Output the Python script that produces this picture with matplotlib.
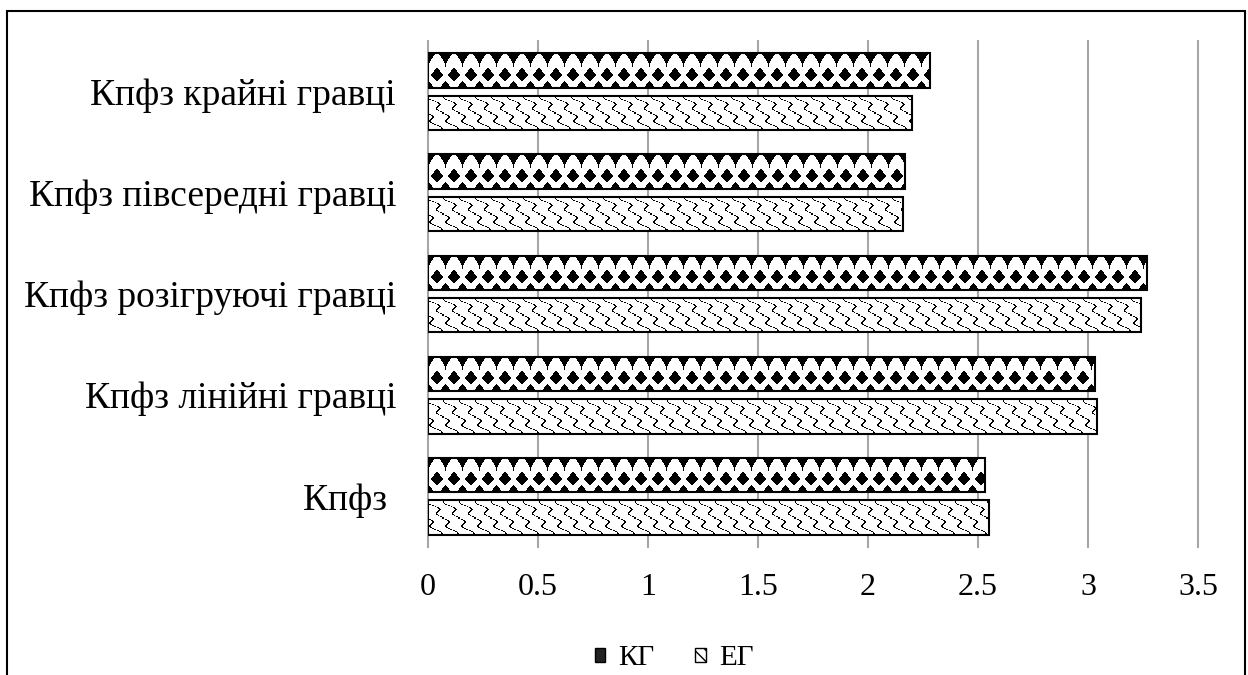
import numpy as np
import matplotlib.pyplot as plt
from matplotlib.patches import Patch, Rectangle

categories = ["Кпфз ", "Кпфз лінійні гравці", "Кпфз розігруючі гравці",
              "Кпфз півсередні гравці", "Кпфз крайні гравці"]
kg = [2.53, 3.03, 3.27, 2.17, 2.28]
eg = [2.55, 3.04, 3.24, 2.16, 2.20]
series_names = ["КГ", "ЕГ"]
xticks = [0, 0.5, 1, 1.5, 2, 2.5, 3, 3.5]
xlabels = ["0", "0.5", "1", "1.5", "2", "2.5", "3", "3.5"]

plt.rcParams['font.family'] = ['Liberation Serif', 'DejaVu Serif']


# fill textures for the bars (pixel grids, black = 0)
def diamonds(w, h):
    yy, xx = np.mgrid[0:h, 0:w] + 0.5
    cx = np.round((xx - 9) / 17) * 17 + 9
    mid = np.abs(xx - cx) / 6 + np.abs(yy - 21) / 6.5 <= 1
    cx2 = np.round((xx - 17.5) / 17) * 17 + 17.5
    top = (np.abs(xx - cx2) / 8.6) ** 0.75 + (yy / 14) ** 0.75 <= 1
    bot = np.abs(xx - cx2) / 6 + np.abs(yy - h) / 7 <= 1
    return np.where(mid | top | bot, 0.0, 1.0)


def waves(w, h):
    yy, xx = np.mgrid[0:h, 0:w] + 0.5
    v = (xx - 0.8 * yy + 3.5 * np.sin(2 * np.pi * yy / 11.5)) % 16
    return np.where(v < 1.8, 0.0, 1.0)


fig = plt.figure(figsize=(12.48, 6.75), dpi=100)
ax = fig.add_axes([428 / 1248, 1 - 547 / 675, 770 / 1248, 506 / 675])
ax.set_xlim(0, 3.5)
ax.set_ylim(-0.5, 4.5)

y = np.arange(len(categories))
bh = 0.34
for vals, dy, pat in [(kg, 0.21, diamonds), (eg, -0.21, waves)]:
    ax.barh(y + dy, vals, height=bh, facecolor='none', edgecolor='black',
            linewidth=1.5, zorder=3)
    for yi, v in zip(y, vals):
        x0, y0 = ax.transData.transform((0, yi + dy + bh / 2))
        x1, y1 = ax.transData.transform((v, yi + dy - bh / 2))
        img = pat(int(round(x1 - x0)), int(round(y0 - y1)))
        ax.imshow(img, cmap='gray', vmin=0, vmax=1, aspect='auto',
                  interpolation='nearest', zorder=2,
                  extent=(0, v, yi + dy - bh / 2, yi + dy + bh / 2))

ax.set_xlim(0, 3.5)
ax.set_ylim(-0.5, 4.5)
ax.set_xticks(xticks, xlabels)
ax.set_yticks(y, categories)
ax.tick_params(axis='both', length=0)
ax.tick_params(axis='x', pad=19, labelsize=23)
ax.tick_params(axis='y', pad=23, labelsize=27)
ax.grid(axis='x', color='#a6a6a6', linewidth=1.5)
ax.set_axisbelow(True)
for line in ax.get_xgridlines():
    line.set_clip_on(False)
for s in ax.spines.values():
    s.set_visible(False)

handles = [Patch(facecolor='#222222', edgecolor='black', linewidth=1),
           Patch(facecolor='white', edgecolor='black', hatch='\\\\\\', linewidth=1)]
fig.legend(handles, series_names, loc='center',
           bbox_to_anchor=(674 / 1248, 1 - 658 / 675), ncol=2, frameon=False,
           fontsize=21, handlelength=0.36, handleheight=0.36,
           handletextpad=0.45, columnspacing=1.4)

fig.add_artist(Rectangle((7 / 1248, -0.05), 1238 / 1248, 1 - 11 / 675 + 0.05,
                         transform=fig.transFigure, fill=False,
                         edgecolor='black', linewidth=1.5))

fig.savefig('out.png', dpi=100)
